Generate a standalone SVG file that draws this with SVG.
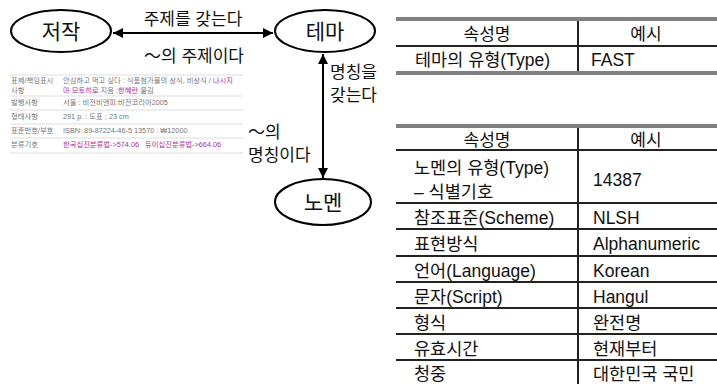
<svg xmlns="http://www.w3.org/2000/svg" width="717" height="384" viewBox="0 0 717 384">
<style>
text{font-family:"Liberation Sans","Noto Sans CJK KR",sans-serif;fill:#111}
.node ellipse{fill:#fff;stroke:#000;stroke-width:2}
.nt{font-size:21px;text-anchor:middle}
.lb{font-size:17px}
.edge{stroke:#000;stroke-width:2;fill:none}
.tt{font-size:17.5px}
.th{font-size:17px;text-anchor:middle}
.gray{stroke:#808080;stroke-width:4}
.blk{stroke:#222;stroke-width:2}
.sm{font-size:7.3px;fill:#777}
.pp{fill:#b0309a}
.rl{stroke:#ddd;stroke-width:1}
</style>
<defs>
<marker id="ah" viewBox="0 0 10 10" refX="10" refY="5" markerWidth="5" markerHeight="5" orient="auto-start-reverse" markerUnits="strokeWidth">
<path d="M0,0 L10,5 L0,10 z" fill="#000"/>
</marker>
</defs>

<g id="edges">
<line class="edge" x1="113" y1="33" x2="273" y2="33" marker-start="url(#ah)" marker-end="url(#ah)"/>
<text class="lb" x="193" y="25" text-anchor="middle">주제를 갖는다</text>
<text class="lb" x="194" y="62" text-anchor="middle">～의 주제이다</text>
<line class="edge" x1="323" y1="54" x2="323" y2="178" marker-start="url(#ah)" marker-end="url(#ah)"/>
<text class="lb" x="330" y="78">명칭을</text>
<text class="lb" x="330" y="101">갖는다</text>
<text class="lb" x="248" y="138">～의</text>
<text class="lb" x="248" y="161">명칭이다</text>
</g>

<g id="node-jeojak" class="node">
<ellipse cx="61" cy="31" rx="50" ry="21"/>
<text class="nt" x="61" y="39">저작</text>
</g>
<g id="node-tema" class="node">
<ellipse cx="325" cy="31" rx="50" ry="21"/>
<text class="nt" x="325" y="39">테마</text>
</g>
<g id="node-nomen" class="node">
<ellipse cx="323" cy="202" rx="48" ry="23"/>
<text class="nt" x="323" y="210">노멘</text>
</g>

<g id="catalog">
<line class="rl" x1="10" y1="75" x2="243" y2="75"/>
<line class="rl" x1="10" y1="96" x2="243" y2="96"/>
<line class="rl" x1="10" y1="110" x2="243" y2="110"/>
<line class="rl" x1="10" y1="124" x2="243" y2="124"/>
<line class="rl" x1="10" y1="138" x2="243" y2="138"/>
<line class="rl" x1="10" y1="153" x2="243" y2="153"/>
<text class="sm" x="11" y="83">표제/책임표시</text>
<text class="sm" x="11" y="93">사항</text>
<text class="sm" x="63" y="83">안심하고 먹고 싶다 : 식품첨가물의 상식, 비상식 / <tspan class="pp">나시지</tspan></text>
<text class="sm" x="63" y="93"><tspan class="pp">마 모토히로</tspan> 지음 ;<tspan class="pp">한혜란</tspan> 옮김</text>
<text class="sm" x="11" y="105">발행사항</text>
<text class="sm" x="63" y="105">서울 : 비전비엔피:비전코리아2005</text>
<text class="sm" x="11" y="119">형태사항</text>
<text class="sm" x="63" y="119">291 p. : 도표 ; 23 cm</text>
<text class="sm" x="11" y="133">표준번호/부호</text>
<text class="sm" x="63" y="133">ISBN: 89-87224-46-5 13570 : ₩12000</text>
<text class="sm" x="11" y="147">분류기호</text>
<text class="sm pp" x="63" y="147" xml:space="preserve">한국십진분류법-&gt;574.06   듀이십진분류법-&gt;664.06</text>
</g>

<g id="table-tema">
<line class="gray" x1="396" y1="19" x2="717" y2="19"/>
<line class="blk" x1="396" y1="46" x2="717" y2="46"/>
<line class="gray" x1="396" y1="73" x2="717" y2="73"/>
<line class="blk" x1="578" y1="21" x2="578" y2="71"/>
<text class="th" x="487" y="40">속성명</text>
<text class="th" x="646" y="40">예시</text>
<text class="tt" x="415" y="66">테마의 유형(Type)</text>
<text class="tt" x="591" y="66">FAST</text>
</g>

<g id="table-nomen">
<line class="gray" x1="396" y1="126" x2="717" y2="126"/>
<line class="blk" x1="396" y1="150" x2="717" y2="150"/>
<line class="blk" x1="396" y1="203" x2="717" y2="203"/>
<line class="blk" x1="396" y1="229" x2="717" y2="229"/>
<line class="blk" x1="396" y1="256" x2="717" y2="256"/>
<line class="blk" x1="396" y1="282" x2="717" y2="282"/>
<line class="blk" x1="396" y1="308" x2="717" y2="308"/>
<line class="blk" x1="396" y1="334" x2="717" y2="334"/>
<line class="blk" x1="396" y1="360" x2="717" y2="360"/>
<line class="blk" x1="578" y1="128" x2="578" y2="384"/>
<text class="th" x="487" y="146">속성명</text>
<text class="th" x="646" y="146">예시</text>
<text class="tt" x="414" y="174">노멘의 유형(Type)</text>
<text class="tt" x="414" y="198">– 식별기호</text>
<text class="tt" x="593" y="186">14387</text>
<text class="tt" x="414" y="224">참조표준(Scheme)</text>
<text class="tt" x="593" y="224">NLSH</text>
<text class="tt" x="414" y="250">표현방식</text>
<text class="tt" x="593" y="250">Alphanumeric</text>
<text class="tt" x="414" y="277">언어(Language)</text>
<text class="tt" x="593" y="277">Korean</text>
<text class="tt" x="414" y="303">문자(Script)</text>
<text class="tt" x="593" y="303">Hangul</text>
<text class="tt" x="414" y="329">형식</text>
<text class="tt" x="593" y="329">완전명</text>
<text class="tt" x="414" y="355">유효시간</text>
<text class="tt" x="593" y="355">현재부터</text>
<text class="tt" x="414" y="380">청중</text>
<text class="tt" x="593" y="380">대한민국 국민</text>
</g>
</svg>
